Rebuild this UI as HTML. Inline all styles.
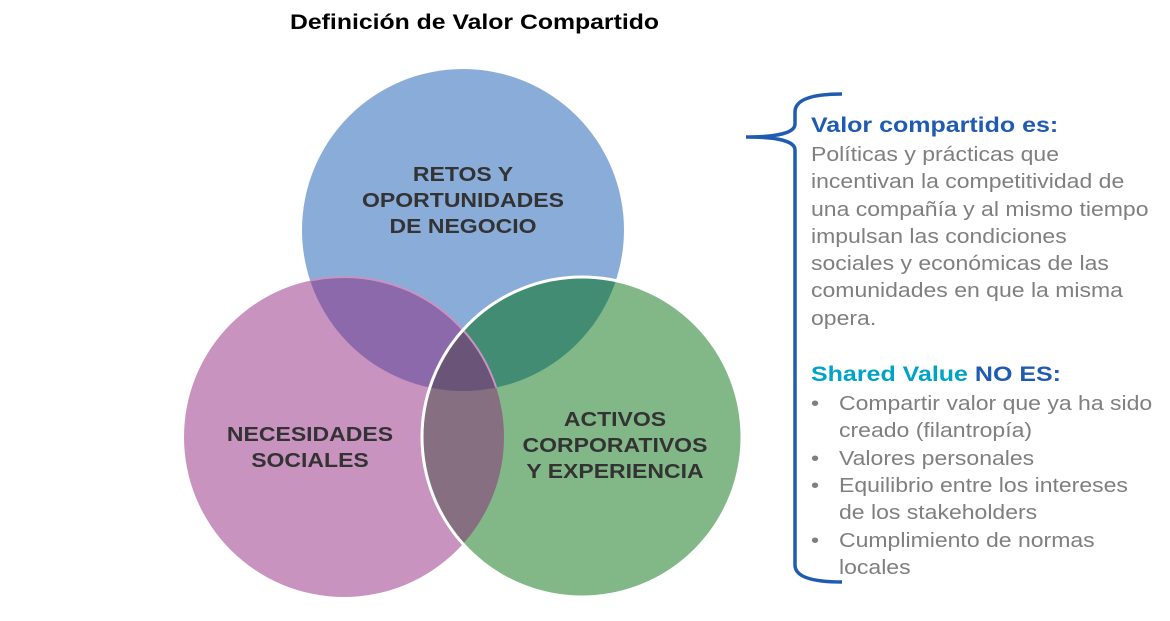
<!DOCTYPE html>
<html><head><meta charset="utf-8"><style>
body{margin:0;width:1170px;height:621px;background:#fff;overflow:hidden;position:relative;font-family:"Liberation Sans",sans-serif}
.t{position:absolute;white-space:nowrap;transform-origin:0 0;transform:scaleX(1.19)}
.c{position:absolute;white-space:nowrap;text-align:center;font-size:20px;font-weight:bold;color:#333;line-height:26px;transform:scaleX(1.15)}
.g{color:#7f7f7f;font-size:20px;line-height:27.3px;transform:scaleX(1.15)}
</style></head><body>
<svg width="1170" height="621" style="position:absolute;left:0;top:0">
<defs>
<clipPath id="cT"><circle cx="463" cy="230" r="161"/></clipPath>
<clipPath id="cR"><circle cx="582" cy="437" r="160"/></clipPath>
</defs>
<circle cx="463" cy="230" r="161" fill="#8AACD8"/>
<circle cx="344" cy="437" r="160" fill="#C993C0"/>
<circle cx="344" cy="437" r="160" fill="#8B69AB" clip-path="url(#cT)"/>
<circle cx="582" cy="437" r="160" fill="#82B887"/>
<circle cx="582" cy="437" r="160" fill="#418C73" clip-path="url(#cT)"/>
<g clip-path="url(#cR)"><circle cx="344" cy="437" r="160" fill="#866F80"/>
<g clip-path="url(#cT)"><circle cx="344" cy="437" r="160" fill="#6A5578"/></g></g>
<circle cx="344" cy="437" r="160" fill="none" stroke="#C993C0" stroke-width="2" clip-path="url(#cT)"/>
<circle cx="582" cy="437" r="160" fill="none" stroke="#fff" stroke-width="3"/>
<path d="M842 94 Q795 94 795 112 L795 124 Q795 137 746 137 Q795 137 795 150 L795 565 Q795 582 842 582" fill="none" stroke="#1F5BB0" stroke-width="3.5"/>
</svg>
<div class="t" style="left:290px;top:11px;font-size:21px;font-weight:bold;color:#000;transform:scaleX(1.18)">Definición de Valor Compartido</div>
<div class="c" style="left:343px;top:162px;width:240px">RETOS Y<br>OPORTUNIDADES<br>DE NEGOCIO</div>
<div class="c" style="left:200px;top:422px;width:220px">NECESIDADES<br>SOCIALES</div>
<div class="c" style="left:505px;top:407px;width:220px">ACTIVOS<br>CORPORATIVOS<br>Y EXPERIENCIA</div>
<div class="t" style="left:811px;top:114px;font-size:21px;font-weight:bold;color:#1F5BB0">Valor compartido es:</div>
<div class="t g" style="left:811px;top:142px">Políticas y prácticas que<br>incentivan la competitividad de<br>una compañía y al mismo tiempo<br>impulsan las condiciones<br>sociales y económicas de las<br>comunidades en que la misma<br>opera.</div>
<div class="t" style="left:811px;top:363px;font-size:21px;font-weight:bold;color:#1F5BB0"><span style="color:#00A3C8">Shared Value</span> NO ES:</div>
<div class="t g" style="left:811px;top:391px">•</div>
<div class="t g" style="left:839px;top:391px">Compartir valor que ya ha sido<br>creado (filantropía)</div>
<div class="t g" style="left:811px;top:446px">•</div>
<div class="t g" style="left:839px;top:446px">Valores personales</div>
<div class="t g" style="left:811px;top:473px">•</div>
<div class="t g" style="left:839px;top:473px">Equilibrio entre los intereses<br>de los stakeholders</div>
<div class="t g" style="left:811px;top:528px">•</div>
<div class="t g" style="left:839px;top:528px">Cumplimiento de normas<br>locales</div>
</body></html>
